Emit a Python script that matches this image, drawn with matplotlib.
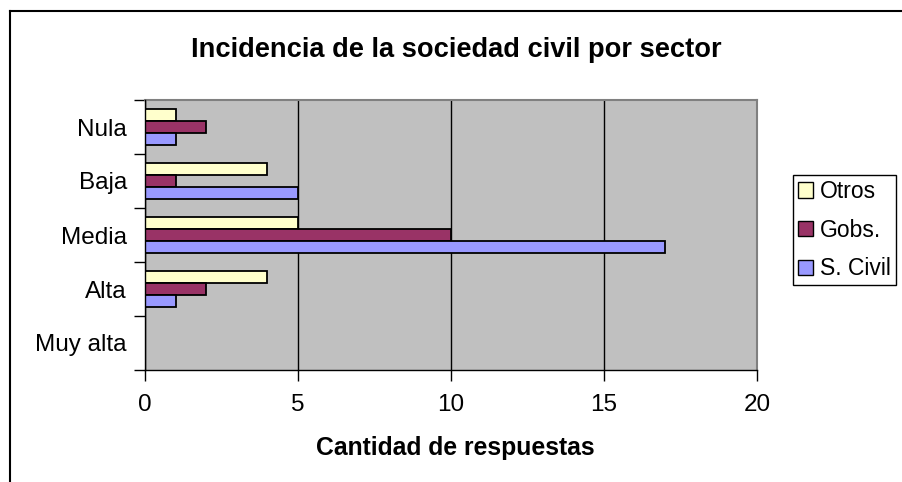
import matplotlib.pyplot as plt
from matplotlib.lines import Line2D
from matplotlib.patches import Patch
import numpy as np

plt.rcParams['font.family'] = ['Liberation Sans', 'DejaVu Sans']

# categories from bottom to top
categories = ["Muy alta", "Alta", "Media", "Baja", "Nula"]
otros = [0, 4, 5, 4, 1]
gobs = [0, 2, 10, 1, 2]
s_civil = [0, 1, 17, 5, 1]

series = [("Otros", otros, "#FFFFCC", 0.227),
          ("Gobs.", gobs, "#993366", 0.0),
          ("S. Civil", s_civil, "#9999FF", -0.227)]

W, H = 902, 482
fig = plt.figure(figsize=(W / 100, H / 100), dpi=100)
ax = fig.add_axes([145 / W, 1 - 370 / H, (757 - 145) / W, (370 - 100) / H])
ax.set_facecolor("#C0C0C0")

y = np.arange(len(categories))
for name, vals, color, off in series:
    ax.barh(y + off, vals, height=0.227, color=color, edgecolor="black",
            linewidth=1.3, zorder=3)

ax.set_xlim(0, 20)
ax.set_ylim(-0.5, 4.5)
ax.set_xticks([0, 5, 10, 15, 20])
ax.set_yticks(np.arange(-0.5, 5, 1), minor=False)
ax.set_yticklabels([])
ax.set_yticks(y, minor=True)
ax.set_yticklabels(categories, minor=True)
ax.tick_params(axis="y", which="minor", length=0, pad=13, labelsize=17.5)
ax.tick_params(axis="y", which="major", length=8, width=1, direction="out")
ax.tick_params(axis="x", length=8, width=1, direction="out", pad=9,
               labelsize=17.5)

ax.grid(axis="x", color="black", linewidth=1, zorder=1)
for s in ["top", "right"]:
    ax.spines[s].set_color("#808080")
    ax.spines[s].set_linewidth(1.5)
for s in ["left", "bottom"]:
    ax.spines[s].set_color("black")
    ax.spines[s].set_linewidth(1)
    ax.spines[s].set_zorder(4)

fig.text(456 / W, 1 - 50 / H, "Incidencia de la sociedad civil por sector",
         ha="center", va="center", fontsize=19.6, fontweight="bold")
fig.text(455 / W, 1 - 448 / H, "Cantidad de respuestas",
         ha="center", va="center", fontsize=17.8, fontweight="bold")

handles = [Patch(facecolor=c, edgecolor="black", linewidth=1, label=n)
           for n, _, c, _ in series]
leg = fig.legend(handles=handles, loc="upper left",
                 bbox_to_anchor=(793 / W, 1 - 175 / H), borderaxespad=0,
                 fontsize=16.5, handlelength=0.65, handleheight=0.65,
                 handletextpad=0.3, labelspacing=0.68, borderpad=0.22,
                 fancybox=False, shadow=False, framealpha=1)
leg.get_frame().set_edgecolor("black")
leg.get_frame().set_linewidth(1)

# outer chart border (only left and top visible)
fig.add_artist(Line2D([9.5 / W, 9.5 / W], [0, 1 - 10.5 / H],
                      color="black", linewidth=1.5))
fig.add_artist(Line2D([9.5 / W, 1], [1 - 10.5 / H, 1 - 10.5 / H],
                      color="black", linewidth=1.5))

fig.savefig("out.png", dpi=100)
